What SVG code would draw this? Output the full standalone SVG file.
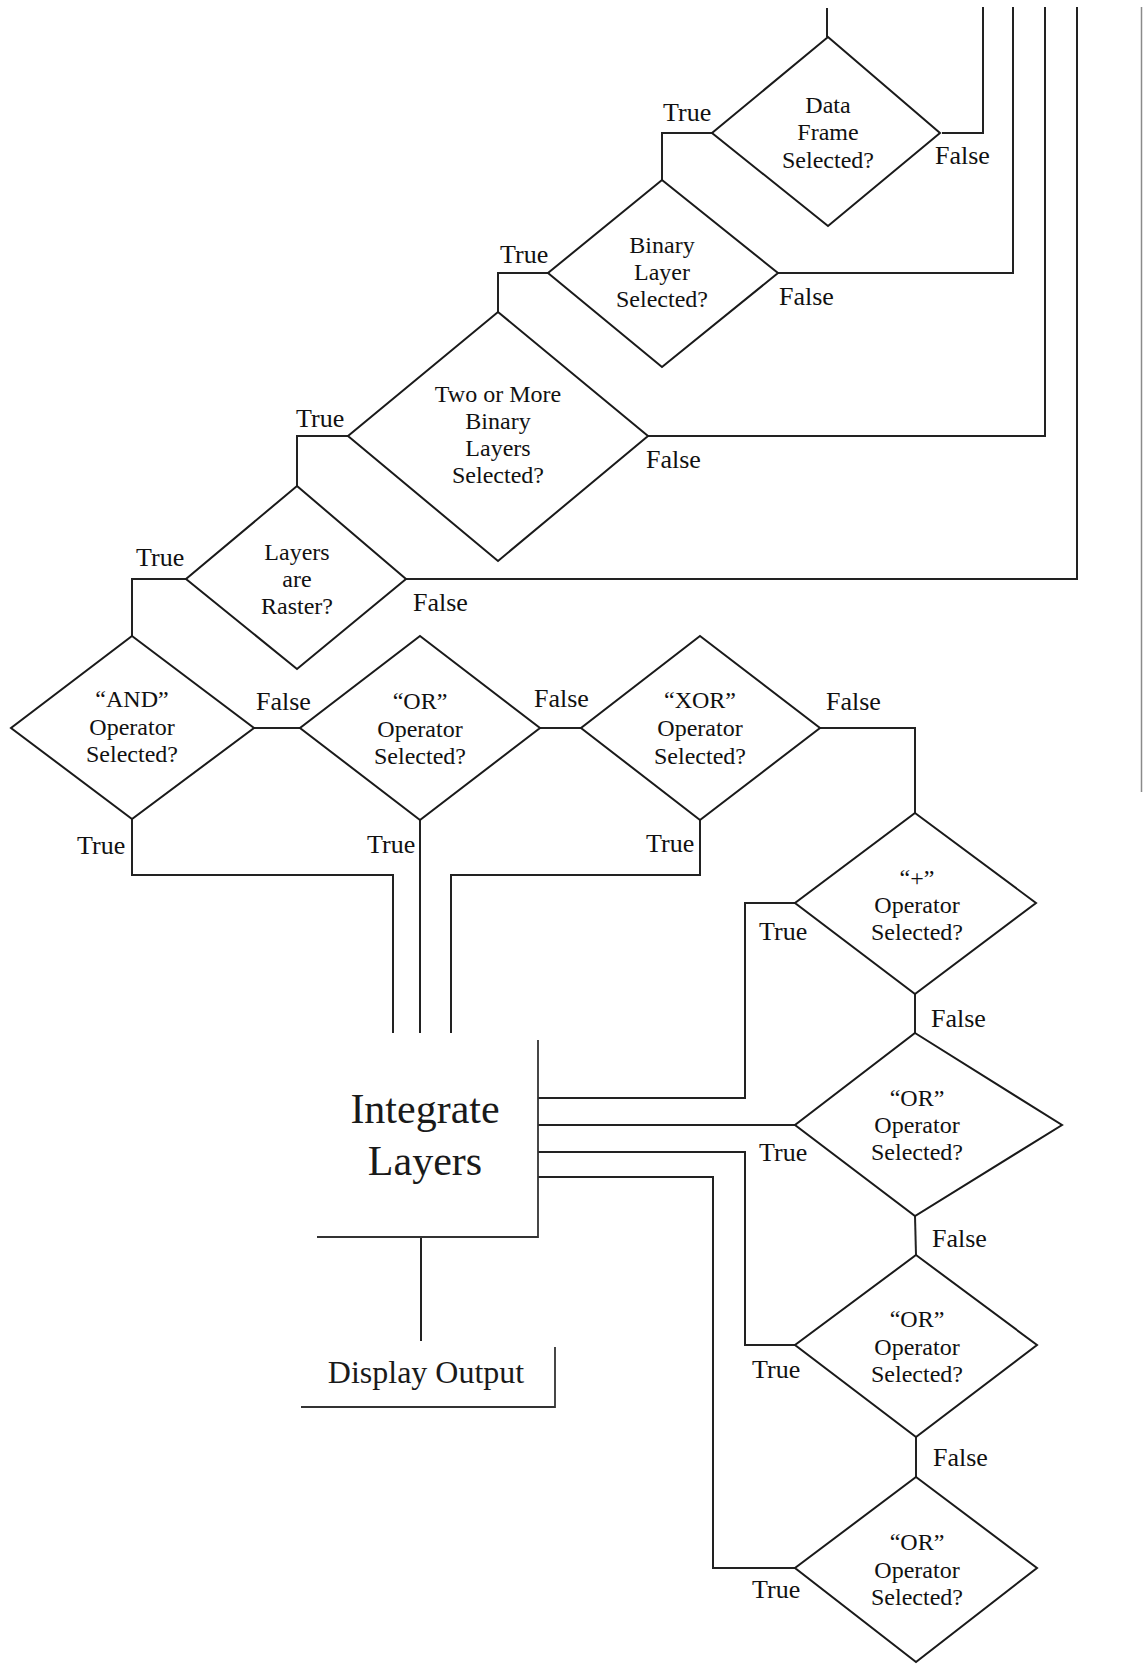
<svg xmlns="http://www.w3.org/2000/svg" width="1144" height="1668" viewBox="0 0 1144 1668">
  <style>
    .dia { fill: #fff; stroke: #1a1a1a; stroke-width: 2; stroke-linejoin: miter; }
    .box { fill: none; stroke: #333; stroke-width: 1.8; }
    .conn polyline, .conn line { fill: none; stroke: #222; stroke-width: 2; }
    .q { font-family: "Liberation Serif", "Times New Roman", serif; font-size: 24px; fill: #111; text-anchor: middle; }
    .lbl { font-family: "Liberation Serif", "Times New Roman", serif; font-size: 26px; fill: #111; }
    .big { font-family: "Liberation Serif", "Times New Roman", serif; font-size: 42px; fill: #1a1a1a; text-anchor: middle; }
    .mid { font-family: "Liberation Serif", "Times New Roman", serif; font-size: 32px; fill: #1a1a1a; text-anchor: middle; }
  </style>
  <rect width="1144" height="1668" fill="#fff"/>

  <!-- connectors -->
  <g id="connectors" class="conn">
    <polyline points="827,8 827,37"/>
    <polyline points="942,133 983,133 983,7"/>
    <polyline points="714,133 662,133 662,180"/>
    <polyline points="778,273 1013,273 1013,7"/>
    <polyline points="548,273 498,273 498,312"/>
    <polyline points="648,436 1045,436 1045,7"/>
    <polyline points="348,436 297,436 297,486"/>
    <polyline points="406,579 1077,579 1077,7"/>
    <polyline points="186,579 132,579 132,636"/>
    <polyline points="254,728 300,728"/>
    <polyline points="132,819 132,875 393,875 393,1033"/>
    <polyline points="540,728 581,728"/>
    <polyline points="420,820 420,1033"/>
    <polyline points="700,820 700,875 451,875 451,1033"/>
    <polyline points="820,728 915,728 915,813"/>
    <polyline points="795,903 745,903 745,1098 538,1098"/>
    <polyline points="915,994 915,1033"/>
    <polyline points="795,1125 538,1125"/>
    <polyline points="915,1216 916,1255"/>
    <polyline points="795,1345 745,1345 745,1152 538,1152"/>
    <polyline points="916,1437 916,1477"/>
    <polyline points="795,1568 713,1568 713,1177 538,1177"/>
    <polyline points="421,1237 421,1341"/>
  </g>

  <!-- page edge rule -->
  <line x1="1141.5" y1="7" x2="1141.5" y2="792" stroke="#8a8a8a" stroke-width="1.5"/>

  <!-- decision nodes -->
  <g id="n-data-frame">
    <polygon class="dia" points="828,37 940,133 828,226 712,133"/>
    <text class="q" x="828" y="113">Data</text>
    <text class="q" x="828" y="140">Frame</text>
    <text class="q" x="828" y="168">Selected?</text>
    <text class="lbl" x="663" y="121">True</text>
    <text class="lbl" x="935" y="164">False</text>
  </g>

  <g id="n-binary-layer">
    <polygon class="dia" points="662,180 778,273 662,367 548,273"/>
    <text class="q" x="662" y="253">Binary</text>
    <text class="q" x="662" y="280">Layer</text>
    <text class="q" x="662" y="307">Selected?</text>
    <text class="lbl" x="500" y="263">True</text>
    <text class="lbl" x="779" y="305">False</text>
  </g>

  <g id="n-two-or-more">
    <polygon class="dia" points="498,312 648,436 498,561 348,436"/>
    <text class="q" x="498" y="402">Two or More</text>
    <text class="q" x="498" y="429">Binary</text>
    <text class="q" x="498" y="456">Layers</text>
    <text class="q" x="498" y="483">Selected?</text>
    <text class="lbl" x="296" y="427">True</text>
    <text class="lbl" x="646" y="468">False</text>
  </g>

  <g id="n-raster">
    <polygon class="dia" points="297,486 406,579 297,669 186,579"/>
    <text class="q" x="297" y="560">Layers</text>
    <text class="q" x="297" y="587">are</text>
    <text class="q" x="297" y="614">Raster?</text>
    <text class="lbl" x="136" y="566">True</text>
    <text class="lbl" x="413" y="611">False</text>
  </g>

  <g id="n-and">
    <polygon class="dia" points="132,636 254,728 132,819 11,728"/>
    <text class="q" x="132" y="707">“AND”</text>
    <text class="q" x="132" y="735">Operator</text>
    <text class="q" x="132" y="762">Selected?</text>
    <text class="lbl" x="256" y="710">False</text>
    <text class="lbl" x="77" y="854">True</text>
  </g>

  <g id="n-or-1">
    <polygon class="dia" points="420,636 540,728 420,820 300,728"/>
    <text class="q" x="420" y="709">“OR”</text>
    <text class="q" x="420" y="737">Operator</text>
    <text class="q" x="420" y="764">Selected?</text>
    <text class="lbl" x="534" y="707">False</text>
    <text class="lbl" x="367" y="853">True</text>
  </g>

  <g id="n-xor">
    <polygon class="dia" points="700,636 820,728 700,820 581,728"/>
    <text class="q" x="700" y="708">“XOR”</text>
    <text class="q" x="700" y="736">Operator</text>
    <text class="q" x="700" y="764">Selected?</text>
    <text class="lbl" x="826" y="710">False</text>
    <text class="lbl" x="646" y="852">True</text>
  </g>

  <g id="n-plus">
    <polygon class="dia" points="915,813 1036,903 915,994 795,903"/>
    <text class="q" x="917" y="886">“+”</text>
    <text class="q" x="917" y="913">Operator</text>
    <text class="q" x="917" y="940">Selected?</text>
    <text class="lbl" x="759" y="940">True</text>
    <text class="lbl" x="931" y="1027">False</text>
  </g>

  <g id="n-or-2">
    <polygon class="dia" points="915,1033 1062,1125 915,1216 795,1125"/>
    <text class="q" x="917" y="1106">“OR”</text>
    <text class="q" x="917" y="1133">Operator</text>
    <text class="q" x="917" y="1160">Selected?</text>
    <text class="lbl" x="759" y="1161">True</text>
    <text class="lbl" x="932" y="1247">False</text>
  </g>

  <g id="n-or-3">
    <polygon class="dia" points="916,1255 1037,1345 916,1437 795,1345"/>
    <text class="q" x="917" y="1327">“OR”</text>
    <text class="q" x="917" y="1355">Operator</text>
    <text class="q" x="917" y="1382">Selected?</text>
    <text class="lbl" x="752" y="1378">True</text>
    <text class="lbl" x="933" y="1466">False</text>
  </g>

  <g id="n-or-4">
    <polygon class="dia" points="916,1477 1037,1568 916,1662 795,1568"/>
    <text class="q" x="917" y="1550">“OR”</text>
    <text class="q" x="917" y="1578">Operator</text>
    <text class="q" x="917" y="1605">Selected?</text>
    <text class="lbl" x="752" y="1598">True</text>
  </g>

  <!-- process nodes -->
  <g id="n-integrate">
    <path class="box" d="M538,1040 V1237 H317"/>
    <text class="big" x="425" y="1123">Integrate</text>
    <text class="big" x="425" y="1175">Layers</text>
  </g>

  <g id="n-display">
    <path class="box" d="M555,1347 V1407 H301"/>
    <text class="mid" x="426" y="1383">Display Output</text>
  </g>
</svg>
